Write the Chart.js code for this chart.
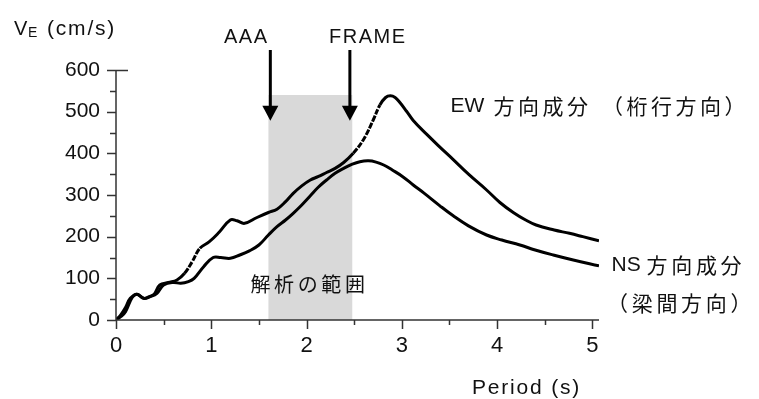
<!DOCTYPE html>
<html lang="ja">
<head>
<meta charset="UTF-8">
<title>VE spectrum</title>
<script src="https://cdn.jsdelivr.net/npm/chart.js"></script>
<style>
  body { margin: 0; background: #fff; }
  canvas { display: block; }
</style>
</head>
<body>
<canvas id="chart" width="759" height="399"></canvas>
<script>
// EW component (桁行方向)
const ewPeriod = [0, 0.05, 0.1, 0.15, 0.22, 0.29, 0.35, 0.4, 0.46, 0.55, 0.64, 0.72, 0.8, 0.88, 0.98,
  1.08, 1.2, 1.27, 1.35, 1.48, 1.6, 1.69, 1.78, 1.86, 1.95, 2.04, 2.12, 2.21, 2.3, 2.39, 2.49,
  2.6, 2.7, 2.77, 2.83, 2.88, 2.93, 2.98, 3.05, 3.12, 3.26, 3.4, 3.54, 3.7, 3.89, 4.03, 4.17,
  4.3, 4.41, 4.6, 4.76, 4.9, 5.07];
const ewVel = [0, 12, 30, 52, 62, 52, 56, 62, 84, 90, 96, 112, 140, 172, 188,
  210, 240, 238, 232, 246, 258, 266, 284, 304, 322, 336, 344, 354, 364, 378, 400,
  434, 480, 516, 534, 538, 534, 522, 501, 479, 446, 415, 385, 350, 312, 282, 258,
  240, 228, 216, 208, 200, 190];

// NS component (梁間方向)
const nsPeriod = [0, 0.05, 0.1, 0.17, 0.22, 0.29, 0.36, 0.43, 0.5, 0.6, 0.68, 0.76, 0.82, 0.92, 1.02,
  1.1, 1.2, 1.3, 1.4, 1.5, 1.6, 1.69, 1.78, 1.86, 1.95, 2.04, 2.12, 2.21, 2.3, 2.39, 2.48,
  2.56, 2.65, 2.73, 2.81, 2.9, 3.01, 3.12, 3.23, 3.4, 3.54, 3.7, 3.89, 4.05, 4.24, 4.4,
  4.59, 4.8, 5.07];
const nsVel = [0, 8, 20, 54, 62, 52, 56, 64, 84, 90, 88, 92, 100, 128, 150,
  150, 148, 156, 166, 180, 204, 224, 240, 256, 276, 298, 318, 336, 352, 364, 374,
  380, 382, 379, 372, 360, 344, 324, 305, 274, 250, 226, 204, 192, 180, 168,
  156, 144, 130];

const xTicks = [0, 1, 2, 3, 4, 5];
const yTicks = [0, 100, 200, 300, 400, 500, 600];
const xMax = 5.07;

// analysis range band and arrows (data units)
const bandRange = [1.6, 2.48];
const bandTop = 540;
const arrowX = [1.62, 2.455];
const arrowLabels = ['AAA', 'FRAME'];
const arrowTop = 648, arrowHeadBase = 514, arrowTip = 478;

const toPoints = (xs, ys) => xs.map((x, i) => ({ x: x, y: ys[i] }));

function drawSpaced(ctx, text, x, y, spacing) {
  for (const ch of text) {
    ctx.fillText(ch, x, y);
    x += ctx.measureText(ch).width + spacing;
  }
  return x;
}
function drawCells(ctx, text, x, y, adv) {
  for (const ch of text) {
    ctx.fillText(ch, x, y);
    x += adv;
  }
}

const bandPlugin = {
  id: 'band',
  beforeDatasetsDraw(chart) {
    const { ctx, scales: { x, y } } = chart;
    ctx.save();
    ctx.fillStyle = '#d9d9d9';
    const x0 = x.getPixelForValue(bandRange[0]), x1 = x.getPixelForValue(bandRange[1]);
    const y0 = y.getPixelForValue(bandTop), y1 = y.getPixelForValue(0);
    ctx.fillRect(x0, y0, x1 - x0, y1 - y0);
    ctx.fillStyle = '#111';
    ctx.textBaseline = 'middle';
    ctx.textAlign = 'left';
    ctx.font = '20px "Noto Sans CJK JP"';
    drawCells(ctx, '解析の範囲', 250.5, 284, 23.6);
    ctx.restore();
  }
};

const axesPlugin = {
  id: 'axesDeco',
  afterDraw(chart) {
    const { ctx, scales: { x, y } } = chart;
    const left = x.getPixelForValue(0), bottom = y.getPixelForValue(0);
    ctx.save();
    ctx.strokeStyle = '#333';
    ctx.lineWidth = 1.5;
    ctx.beginPath();
    // axis lines
    ctx.moveTo(left, y.getPixelForValue(600));
    ctx.lineTo(left, bottom);
    ctx.lineTo(x.getPixelForValue(xMax), bottom);
    // y ticks
    for (let v = 0; v <= 600; v += 50) {
      const py = Math.round(y.getPixelForValue(v)) + 0.5;
      const len = v % 100 === 0 ? 9 : 6;
      ctx.moveTo(left - len, py);
      ctx.lineTo(v === 600 ? left + 12 : left, py);
    }
    // x ticks
    for (let v = 0; v <= 5; v += 0.5) {
      const px = Math.round(x.getPixelForValue(v)) + 0.5;
      const len = Number.isInteger(v) ? 9 : 5;
      ctx.moveTo(px, bottom);
      ctx.lineTo(px, bottom + len);
    }
    ctx.stroke();

    // arrows
    ctx.strokeStyle = '#000';
    ctx.fillStyle = '#000';
    ctx.lineWidth = 3;
    arrowX.forEach(v => {
      const px = x.getPixelForValue(v);
      const yTop = y.getPixelForValue(arrowTop), yBase = y.getPixelForValue(arrowHeadBase), yTip = y.getPixelForValue(arrowTip);
      ctx.beginPath();
      ctx.moveTo(px, yTop);
      ctx.lineTo(px, yBase + 2);
      ctx.stroke();
      ctx.beginPath();
      ctx.moveTo(px - 8, yBase);
      ctx.lineTo(px + 8, yBase);
      ctx.lineTo(px, yTip);
      ctx.closePath();
      ctx.fill();
    });

    // texts
    ctx.fillStyle = '#111';
    ctx.textBaseline = 'middle';
    ctx.textAlign = 'left';
    ctx.font = '20px "Liberation Sans"';
    drawSpaced(ctx, arrowLabels[0], 224, 37, 1.5);
    drawSpaced(ctx, arrowLabels[1], 329, 37, 1.5);

    ctx.font = '20px "Liberation Sans"';
    drawSpaced(ctx, 'V', 14, 29, 0);
    ctx.font = '14px "Liberation Sans"';
    drawSpaced(ctx, 'E', 28, 33, 0);
    ctx.font = '21px "Liberation Sans"';
    drawSpaced(ctx, '(cm/s)', 47, 29, 1.8);

    ctx.font = '21px "Liberation Sans"';
    drawSpaced(ctx, 'Period (s)', 472, 388, 1.8);

    ctx.font = '21px "Liberation Sans"';
    drawSpaced(ctx, 'EW', 450.5, 106, 0);
    drawSpaced(ctx, 'NS', 611.5, 265, 0);
    ctx.font = '21px "Noto Sans CJK JP"';
    drawCells(ctx, '方向成分', 493.5, 106, 24.5);
    drawCells(ctx, '（桁行方向）', 602, 106, 24.5);
    drawCells(ctx, '方向成分', 646.5, 265, 24.7);
    drawCells(ctx, '（梁間方向）', 607, 303, 24.7);
    ctx.restore();
  }
};

// parts of the EW line that look broken in the original print
const dashedEW = ctx => {
  const a = ctx.p0.parsed.x, b = ctx.p1.parsed.x;
  if ((a >= 2.49 && b <= 2.8) || (a >= 0.72 && b <= 0.88)) return [6, 1.5];
  return undefined;
};

new Chart(document.getElementById('chart'), {
  type: 'scatter',
  data: {
    datasets: [{
      label: 'EW',
      data: toPoints(ewPeriod, ewVel),
      showLine: true,
      borderColor: '#000',
      borderWidth: 3,
      pointRadius: 0,
      tension: 0.4,
      segment: { borderDash: dashedEW }
    }, {
      label: 'NS',
      data: toPoints(nsPeriod, nsVel),
      showLine: true,
      borderColor: '#000',
      borderWidth: 3,
      pointRadius: 0,
      tension: 0.4
    }]
  },
  options: {
    responsive: false,
    animation: false,
    devicePixelRatio: 1,
    layout: { padding: { top: 70, right: 160, left: 0, bottom: 0 } },
    plugins: { legend: { display: false }, tooltip: { enabled: false } },
    scales: {
      x: {
        type: 'linear',
        min: 0,
        max: xMax,
        afterFit: s => { s.height = 79; },
        afterBuildTicks: s => { s.ticks = xTicks.map(v => ({ value: v })); },
        grid: { display: false, drawTicks: false },
        border: { display: false },
        ticks: {
          padding: 13,
          color: '#111',
          font: { family: 'Liberation Sans', size: 22 },
          maxRotation: 0
        }
      },
      y: {
        min: 0,
        max: 600,
        afterFit: s => { s.width = 116; },
        afterBuildTicks: s => { s.ticks = yTicks.map(v => ({ value: v })); },
        grid: { display: false, drawTicks: false },
        border: { display: false },
        ticks: {
          padding: 16,
          color: '#111',
          font: { family: 'Liberation Sans', size: 21 }
        }
      }
    }
  },
  plugins: [bandPlugin, axesPlugin]
});
</script>
</body>
</html>
